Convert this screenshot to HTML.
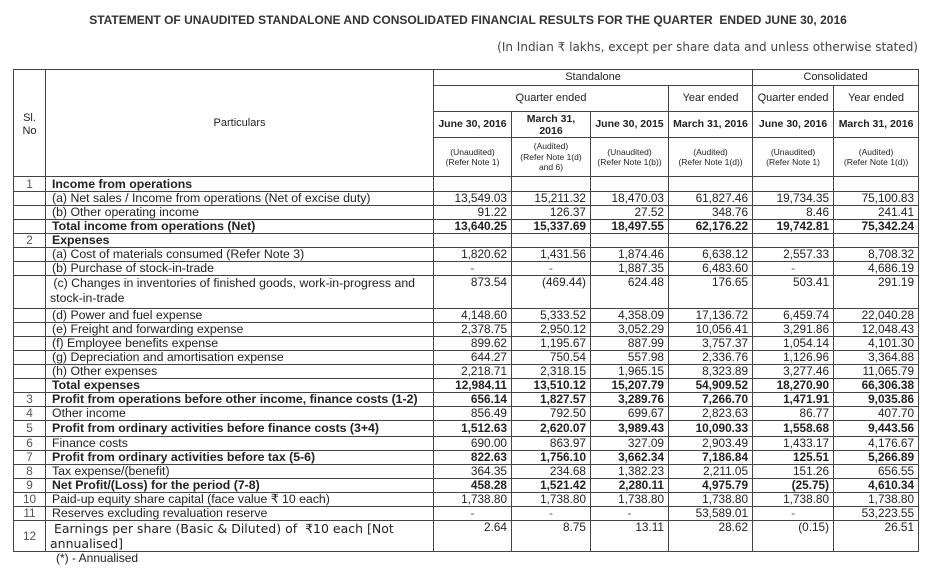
<!DOCTYPE html>
<html><head><meta charset="utf-8"><style>
body{margin:0;background:#fff;width:936px;height:570px;overflow:hidden;font-family:"Liberation Sans",Arial,sans-serif;color:#222;position:relative}
.t{position:absolute;left:0;top:13px;width:936px;text-align:center;font-weight:bold;font-size:12px;color:#333}
.s{position:absolute;right:18px;top:40px;font-family:"DejaVu Sans",sans-serif;font-size:12px;color:#444}
table{position:absolute;left:13px;top:69px;border-collapse:collapse;table-layout:fixed;width:905px}
td{border:1px solid #444;padding:0 4px;font-size:11.8px;line-height:13px;overflow:hidden;white-space:nowrap}
td.p{padding-left:6px;font-size:12.3px}
td.n{text-align:right}
td.c{text-align:center;color:#555}
.h td{text-align:center;font-size:11px;white-space:normal}
.b{font-weight:bold}
.sm{font-size:8.5px!important;line-height:10.5px!important}
.f{position:absolute;left:56px;top:551px;font-size:12px}
</style></head><body>
<div class="t">STATEMENT OF UNAUDITED STANDALONE AND CONSOLIDATED FINANCIAL RESULTS FOR THE QUARTER &nbsp;ENDED JUNE 30, 2016</div>
<div class="s">(In Indian ₹ lakhs, except per share data and unless otherwise stated)</div>
<table>
<col style="width:32px"><col style="width:388px"><col style="width:78px"><col style="width:79px"><col style="width:78px"><col style="width:84px"><col style="width:81px"><col style="width:85px">
<tr class="h" style="height:16px"><td rowspan="4" style="vertical-align:top;padding-top:42px">Sl.<br>No</td><td rowspan="4">Particulars</td><td colspan="4">Standalone</td><td colspan="2">Consolidated</td></tr>
<tr class="h" style="height:26px"><td colspan="3">Quarter ended</td><td>Year ended</td><td>Quarter ended</td><td>Year ended</td></tr>
<tr class="h b" style="height:26px"><td style="font-size:10.5px">June 30, 2016</td><td style="font-size:10.5px;line-height:12px">March 31,<br>2016</td><td style="font-size:10.5px">June 30, 2015</td><td style="font-size:10.5px">March 31, 2016</td><td style="font-size:10.5px">June 30, 2016</td><td style="font-size:10.5px">March 31, 2016</td></tr>
<tr class="h" style="height:39px"><td class="sm">(Unaudited)<br>(Refer Note 1)</td><td class="sm">(Audited)<br>(Refer Note 1(d)<br>and 6)</td><td class="sm">(Unaudited)<br>(Refer Note 1(b))</td><td class="sm">(Audited)<br>(Refer Note 1(d))</td><td class="sm">(Unaudited)<br>(Refer Note 1)</td><td class="sm">(Audited)<br>(Refer Note 1(d))</td></tr>
<tr style="height:15px"><td class="c">1</td><td class="b p">Income from operations</td><td></td><td></td><td></td><td></td><td></td><td></td></tr>
<tr style="height:14px"><td></td><td class="p">(a) Net sales / Income from operations (Net of excise duty)</td><td class="n">13,549.03</td><td class="n">15,211.32</td><td class="n">18,470.03</td><td class="n">61,827.46</td><td class="n">19,734.35</td><td class="n">75,100.83</td></tr>
<tr style="height:13px"><td></td><td class="p">(b) Other operating income</td><td class="n">91.22</td><td class="n">126.37</td><td class="n">27.52</td><td class="n">348.76</td><td class="n">8.46</td><td class="n">241.41</td></tr>
<tr style="height:14px" class="b"><td></td><td class="p">Total income from operations (Net)</td><td class="n">13,640.25</td><td class="n">15,337.69</td><td class="n">18,497.55</td><td class="n">62,176.22</td><td class="n">19,742.81</td><td class="n">75,342.24</td></tr>
<tr style="height:14px"><td class="c">2</td><td class="b p">Expenses</td><td></td><td></td><td></td><td></td><td></td><td></td></tr>
<tr style="height:14px"><td></td><td class="p">(a) Cost of materials consumed (Refer Note 3)</td><td class="n">1,820.62</td><td class="n">1,431.56</td><td class="n">1,874.46</td><td class="n">6,638.12</td><td class="n">2,557.33</td><td class="n">8,708.32</td></tr>
<tr style="height:14px"><td></td><td class="p">(b) Purchase of stock-in-trade</td><td class="c">-</td><td class="c">-</td><td class="n">1,887.35</td><td class="n">6,483.60</td><td class="c">-</td><td class="n">4,686.19</td></tr>
<tr style="height:33px"><td></td><td class="p" style="vertical-align:top;white-space:normal;line-height:15px;padding-left:4px">&nbsp;(c) Changes in inventories of finished goods, work-in-progress and stock-in-trade</td><td class="n" style="vertical-align:top">873.54</td><td class="n" style="vertical-align:top">(469.44)</td><td class="n" style="vertical-align:top">624.48</td><td class="n" style="vertical-align:top">176.65</td><td class="n" style="vertical-align:top">503.41</td><td class="n" style="vertical-align:top">291.19</td></tr>
<tr style="height:14px"><td></td><td class="p">(d) Power and fuel expense</td><td class="n">4,148.60</td><td class="n">5,333.52</td><td class="n">4,358.09</td><td class="n">17,136.72</td><td class="n">6,459.74</td><td class="n">22,040.28</td></tr>
<tr style="height:14px"><td></td><td class="p">(e) Freight and forwarding expense</td><td class="n">2,378.75</td><td class="n">2,950.12</td><td class="n">3,052.29</td><td class="n">10,056.41</td><td class="n">3,291.86</td><td class="n">12,048.43</td></tr>
<tr style="height:14px"><td></td><td class="p">(f) Employee benefits expense</td><td class="n">899.62</td><td class="n">1,195.67</td><td class="n">887.99</td><td class="n">3,757.37</td><td class="n">1,054.14</td><td class="n">4,101.30</td></tr>
<tr style="height:14px"><td></td><td class="p">(g) Depreciation and amortisation expense</td><td class="n">644.27</td><td class="n">750.54</td><td class="n">557.98</td><td class="n">2,336.76</td><td class="n">1,126.96</td><td class="n">3,364.88</td></tr>
<tr style="height:14px"><td></td><td class="p">(h) Other expenses</td><td class="n">2,218.71</td><td class="n">2,318.15</td><td class="n">1,965.15</td><td class="n">8,323.89</td><td class="n">3,277.46</td><td class="n">11,065.79</td></tr>
<tr style="height:14px" class="b"><td></td><td class="p">Total expenses</td><td class="n">12,984.11</td><td class="n">13,510.12</td><td class="n">15,207.79</td><td class="n">54,909.52</td><td class="n">18,270.90</td><td class="n">66,306.38</td></tr>
<tr style="height:14px"><td class="c">3</td><td class="b p">Profit from operations before other income, finance costs (1-2)</td><td class="n b">656.14</td><td class="n b">1,827.57</td><td class="n b">3,289.76</td><td class="n b">7,266.70</td><td class="n b">1,471.91</td><td class="n b">9,035.86</td></tr>
<tr style="height:14px"><td class="c">4</td><td class="p">Other income</td><td class="n">856.49</td><td class="n">792.50</td><td class="n">699.67</td><td class="n">2,823.63</td><td class="n">86.77</td><td class="n">407.70</td></tr>
<tr style="height:16px"><td class="c">5</td><td class="b p">Profit from ordinary activities before finance costs (3+4)</td><td class="n b">1,512.63</td><td class="n b">2,620.07</td><td class="n b">3,989.43</td><td class="n b">10,090.33</td><td class="n b">1,558.68</td><td class="n b">9,443.56</td></tr>
<tr style="height:14px"><td class="c">6</td><td class="p">Finance costs</td><td class="n">690.00</td><td class="n">863.97</td><td class="n">327.09</td><td class="n">2,903.49</td><td class="n">1,433.17</td><td class="n">4,176.67</td></tr>
<tr style="height:14px"><td class="c">7</td><td class="b p">Profit from ordinary activities before tax (5-6)</td><td class="n b">822.63</td><td class="n b">1,756.10</td><td class="n b">3,662.34</td><td class="n b">7,186.84</td><td class="n b">125.51</td><td class="n b">5,266.89</td></tr>
<tr style="height:14px"><td class="c">8</td><td class="p">Tax expense/(benefit)</td><td class="n">364.35</td><td class="n">234.68</td><td class="n">1,382.23</td><td class="n">2,211.05</td><td class="n">151.26</td><td class="n">656.55</td></tr>
<tr style="height:14px"><td class="c">9</td><td class="b p">Net Profit/(Loss) for the period (7-8)</td><td class="n b">458.28</td><td class="n b">1,521.42</td><td class="n b">2,280.11</td><td class="n b">4,975.79</td><td class="n b">(25.75)</td><td class="n b">4,610.34</td></tr>
<tr style="height:14px"><td class="c">10</td><td class="p">Paid-up equity share capital (face value ₹ 10 each)</td><td class="n">1,738.80</td><td class="n">1,738.80</td><td class="n">1,738.80</td><td class="n">1,738.80</td><td class="n">1,738.80</td><td class="n">1,738.80</td></tr>
<tr style="height:14px"><td class="c">11</td><td class="p">Reserves excluding revaluation reserve</td><td class="c">-</td><td class="c">-</td><td class="c">-</td><td class="n">53,589.01</td><td class="c">-</td><td class="n">53,223.55</td></tr>
<tr style="height:29px"><td class="c">12</td><td style="white-space:normal;font-family:'DejaVu Sans',sans-serif;font-size:12.5px;line-height:15px">&nbsp;Earnings per share (Basic &amp; Diluted) of &nbsp;₹10 each [Not annualised]</td><td class="n" style="vertical-align:top">2.64</td><td class="n" style="vertical-align:top">8.75</td><td class="n" style="vertical-align:top">13.11</td><td class="n" style="vertical-align:top">28.62</td><td class="n" style="vertical-align:top">(0.15)</td><td class="n" style="vertical-align:top">26.51</td></tr>
</table>
<div class="f">(*) - Annualised</div>
</body></html>
